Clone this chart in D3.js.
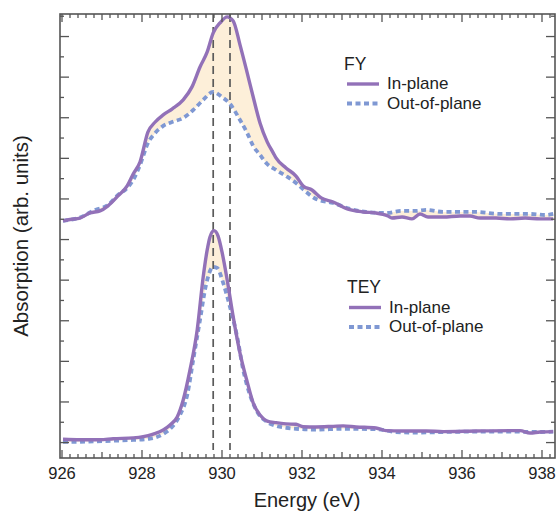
<!DOCTYPE html>
<html>
<head>
<meta charset="utf-8">
<script src="https://cdn.jsdelivr.net/npm/d3@7"></script>
<style>
	body { margin: 0; background: #fff; }
	svg text { font-family: "Liberation Sans", Arial, Helvetica, sans-serif; fill: #222; }
</style>
</head>
<body>
<script>
// energy (eV) / absorption (arb. units) pairs
var fyInE = [926.025, 926.2, 926.45, 926.7, 926.95, 927.15, 927.4, 927.63, 927.78, 927.95, 928.15, 928.33, 928.53, 928.75, 929.03, 929.25, 929.45, 929.63, 929.78, 929.95, 930.13, 930.28, 930.45, 930.63, 930.78, 930.95, 931.13, 931.28, 931.35, 931.6, 931.85, 932.03, 932.25, 932.48, 932.78, 933.13, 933.53, 933.85, 934.15, 934.25, 934.5, 934.75, 934.95, 935.15, 935.53, 935.95, 936.2, 936.45, 936.85, 937.2, 937.58, 937.95, 938.28];
var fyIn = [10.92, 10.99, 11.06, 11.31, 11.41, 11.66, 12.15, 12.64, 13.23, 13.82, 15.30, 15.79, 16.14, 16.43, 16.88, 17.52, 18.50, 19.24, 20.18, 20.67, 20.97, 20.77, 19.59, 18.21, 17.02, 15.74, 14.81, 14.27, 14.02, 13.53, 13.13, 12.64, 12.44, 12.05, 11.85, 11.51, 11.36, 11.31, 11.16, 11.06, 11.11, 11.02, 11.26, 11.11, 11.11, 11.16, 11.16, 11.06, 11.06, 11.02, 11.06, 11.02, 11.02];

var fyOutE = [926.025, 926.45, 926.83, 927.15, 927.4, 927.63, 927.78, 927.95, 928.15, 928.33, 928.53, 928.75, 929.03, 929.28, 929.53, 929.78, 930.0, 930.2, 930.45, 930.63, 930.78, 930.95, 931.13, 931.35, 931.6, 931.85, 932.08, 932.35, 932.78, 933.2, 933.6, 934.1, 934.5, 934.85, 935.1, 935.53, 935.95, 936.35, 936.95, 937.35, 937.7, 938.08, 938.28];
var fyOut = [10.92, 11.09, 11.46, 11.70, 12.20, 12.54, 12.94, 13.67, 14.76, 15.25, 15.60, 15.79, 15.99, 16.38, 16.88, 17.27, 17.02, 16.68, 15.89, 15.25, 14.61, 14.17, 13.72, 13.43, 13.13, 12.79, 12.39, 12.00, 11.80, 11.51, 11.36, 11.31, 11.41, 11.41, 11.46, 11.36, 11.36, 11.36, 11.26, 11.26, 11.26, 11.21, 11.26];

var teyInE = [926.025, 926.45, 926.95, 927.28, 927.78, 928.03, 928.28, 928.53, 928.7, 928.88, 929.03, 929.2, 929.38, 929.53, 929.63, 929.7, 929.8, 929.9, 930.0, 930.13, 930.28, 930.45, 930.63, 930.78, 930.95, 931.13, 931.35, 931.6, 931.85, 932.03, 932.35, 932.78, 933.03, 933.35, 933.85, 934.1, 934.5, 935.1, 935.53, 936.35, 937.2, 937.45, 937.7, 937.95, 938.28];
var teyIn = [0.16, 0.14, 0.14, 0.19, 0.23, 0.29, 0.42, 0.62, 0.87, 1.26, 2.10, 3.58, 5.55, 8.16, 9.49, 10.13, 10.44, 10.18, 9.39, 8.01, 6.19, 4.41, 2.99, 1.95, 1.36, 1.06, 0.98, 0.92, 0.90, 0.78, 0.77, 0.80, 0.82, 0.77, 0.72, 0.59, 0.57, 0.57, 0.54, 0.57, 0.59, 0.59, 0.47, 0.52, 0.54];

var teyOutE = [926.025,926.45,927.28,927.78,928.2,928.53,928.75,928.95,929.13,929.28,929.45,929.6,929.78,929.88,930.03,930.2,930.38,930.53,930.7,930.88,931.13,931.35,931.6,931.85,932.35,933.03,933.85,934.35,934.85,935.53,936.35,937.2,937.95,938.28];
var teyOut = [0.03, 0.04, 0.09, 0.13, 0.19, 0.42, 0.77, 1.36, 2.34, 4.07, 6.04, 7.76, 8.65, 8.60, 7.86, 6.68, 5.20, 3.58, 2.34, 1.51, 1.01, 0.82, 0.73, 0.68, 0.64, 0.68, 0.66, 0.52, 0.49, 0.52, 0.54, 0.54, 0.52, 0.54];

var peakEnergies = [929.78, 930.2];
var xTickLabels = [926, 928, 930, 932, 934, 936, 938];
var seriesNames = ["In-plane", "Out-of-plane"];
var panelNames = ["FY", "TEY"];

(function() {

	var width = 556;
	var height = 516;
	var margin = {left: 60, right: 1, top: 14, bottom: 58};

	var purple = "#9271b8";
	var blue = "#7f98d3";
	var fillCol = "#fdefd9";
	var axisCol = "#555";

	var svg = d3.select("body").append("svg")
		.attr("width", width).attr("height", height);

	var x = d3.scaleLinear().domain([925.95, 938.325])
		.range([margin.left, width - margin.right]);
	var y = d3.scaleLinear().domain([-0.76, 21.11])
		.range([height - margin.bottom, margin.top]);

	function pairs(es, vs) {
		return es.map(function(e, i) { return [e, vs[i]]; });
	}

	var line = d3.line().x(function(d) { return x(d[0]); })
		.y(function(d) { return y(d[1]); }).curve(d3.curveMonotoneX);
	var poly = d3.line().x(function(d) { return x(d[0]); })
		.y(function(d) { return y(d[1]); }).curve(d3.curveLinear);

	var panels = [
		{inn: pairs(fyInE, fyIn), out: pairs(fyOutE, fyOut)},
		{inn: pairs(teyInE, teyIn), out: pairs(teyOutE, teyOut)}
	];

	// shaded difference
	panels.forEach(function(p) {
		var ring = p.inn.concat(p.out.slice().reverse());
		svg.append("path").attr("d", poly(ring) + "Z")
			.attr("fill", fillCol).attr("stroke", "none");
	});

	// peak markers
	svg.selectAll(".peak").data(peakEnergies).enter().append("line")
		.attr("x1", function(d) { return x(d); }).attr("x2", function(d) { return x(d); })
		.attr("y1", y.range()[1]).attr("y2", y.range()[0] - 8)
		.attr("stroke", "#5a5a5a").attr("stroke-width", 1.7)
		.attr("stroke-dasharray", "8,5");

	panels.forEach(function(p) {
		svg.append("path").attr("d", line(p.out)).attr("fill", "none")
			.attr("stroke", blue).attr("stroke-width", 3.8)
			.attr("stroke-dasharray", "5,3.5");
		svg.append("path").attr("d", line(p.inn)).attr("fill", "none")
			.attr("stroke", purple).attr("stroke-width", 3.4);
	});

	// frame
	var x0 = x.range()[0], x1 = x.range()[1], yb = y.range()[0], yt = y.range()[1];
	svg.append("rect").attr("x", x0).attr("y", yt)
		.attr("width", x1 - x0).attr("height", yb - yt)
		.attr("fill", "none").attr("stroke", axisCol).attr("stroke-width", 1.6);

	// x ticks, inward on bottom and top
	var xt = d3.range(0, 62).map(function(i) { return 926 + i * 0.2; })
		.filter(function(e) { return e <= 938.3; });
	function xLen(e) {
		var r = Math.round(e * 5) % 10;
		if (r === 0) return 8;
		if (r === 5) return 6;
		return 4;
	}
	svg.selectAll(".xb").data(xt).enter().append("line")
		.attr("x1", function(d) { return x(d); }).attr("x2", function(d) { return x(d); })
		.attr("y1", yb).attr("y2", function(d) { return yb - xLen(d); })
		.attr("stroke", axisCol).attr("stroke-width", 1.3);
	svg.selectAll(".xtop").data(xt).enter().append("line")
		.attr("x1", function(d) { return x(d); }).attr("x2", function(d) { return x(d); })
		.attr("y1", yt).attr("y2", function(d) { return yt + xLen(d); })
		.attr("stroke", axisCol).attr("stroke-width", 1.3);

	svg.selectAll(".xl").data(xTickLabels).enter().append("text")
		.attr("x", function(d) { return x(d); }).attr("y", yb + 21)
		.attr("text-anchor", "middle").attr("font-size", "16.5px")
		.text(function(d) { return d; });

	// y ticks, inward on left and right
	var yt2 = d3.range(0, 22);
	svg.selectAll(".yl").data(yt2).enter().append("line")
		.attr("x1", x0).attr("x2", function(d) { return x0 + (d % 2 === 0 ? 9 : 4); })
		.attr("y1", function(d) { return y(d); }).attr("y2", function(d) { return y(d); })
		.attr("stroke", axisCol).attr("stroke-width", 1.3);
	svg.selectAll(".yr").data(yt2).enter().append("line")
		.attr("x1", x1).attr("x2", function(d) { return x1 - (d % 2 === 0 ? 9 : 4); })
		.attr("y1", function(d) { return y(d); }).attr("y2", function(d) { return y(d); })
		.attr("stroke", axisCol).attr("stroke-width", 1.3);

	// axis titles
	svg.append("text").attr("x", 307).attr("y", 507)
		.attr("text-anchor", "middle").attr("font-size", "20px")
		.text("Energy (eV)");
	svg.append("text").attr("transform", "translate(28,236) rotate(-90)")
		.attr("text-anchor", "middle").attr("font-size", "20.5px")
		.text("Absorption (arb. units)");

	// legends
	var legends = [
		{title: panelNames[0], tx: 344, ty: 70, lx: 347, ly: 84},
		{title: panelNames[1], tx: 347, ty: 293, lx: 349, ly: 307.5}
	];
	legends.forEach(function(l) {
		svg.append("text").attr("x", l.tx).attr("y", l.ty)
			.attr("font-size", "17.5px").text(l.title);
		seriesNames.forEach(function(name, i) {
			var ly = l.ly + i * 19.5;
			svg.append("line").attr("x1", l.lx).attr("x2", l.lx + 32)
				.attr("y1", ly).attr("y2", ly)
				.attr("stroke", i === 0 ? purple : blue)
				.attr("stroke-width", i === 0 ? 3.4 : 3.8)
				.attr("stroke-dasharray", i === 0 ? null : "5,3.5");
			svg.append("text").attr("x", l.lx + 40).attr("y", ly + 5)
				.attr("font-size", "17px").text(name);
		});
	});

})();
</script>
</body>
</html>
